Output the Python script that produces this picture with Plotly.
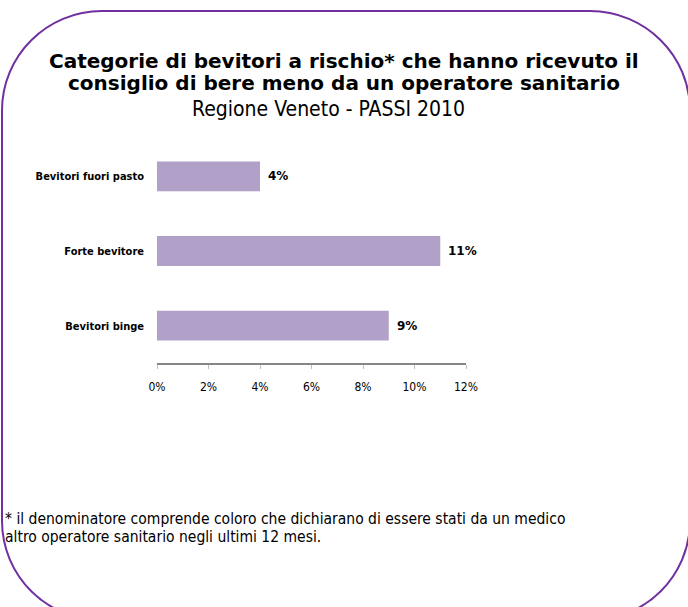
import plotly.graph_objects as go

# Data
categories = ["Bevitori binge", "Forte bevitore", "Bevitori fuori pasto"]
values = [9, 11, 4]
x_ticks = [0, 2, 4, 6, 8, 10, 12]
x_tick_labels = ["0%", "2%", "4%", "6%", "8%", "10%", "12%"]

title_lines = [
    "Categorie di bevitori a rischio* che hanno ricevuto il",
    "consiglio di bere meno da un operatore sanitario",
]
subtitle = "Regione Veneto - PASSI 2010"
footnote_lines = [
    "* il denominatore comprende coloro che dichiarano di essere stati da un medico",
    "altro operatore sanitario negli ultimi 12 mesi.",
]

W, H = 688, 607
L, R, T, B = 157, 222, 138.5, 243.5
PW, PH = W - L - R, H - T - B

BAR = "#B1A0C7"
BORDER = "#7030A0"
AXIS = "#868686"
BOLD = "DejaVu Sans"
COND = "DejaVu Sans Condensed"


def px(x):
    return (x - L) / PW


def py(y):
    return (H - B - y) / PH


fig = go.Figure(
    go.Bar(
        y=categories,
        x=values,
        orientation="h",
        width=0.4,
        marker=dict(color=BAR, line=dict(width=0)),
        hoverinfo="skip",
    )
)

# value labels beside each bar
annotations = []
for c, v in zip(categories, values):
    annotations.append(
        dict(
            x=v, y=c, xref="x", yref="y", text=f"<b>{v}%</b>",
            showarrow=False, xanchor="left", xshift=6,
            font=dict(family=BOLD, size=12, color="#000000"),
        )
    )

# title, subtitle, footnote
for i, line in enumerate(title_lines):
    annotations.append(
        dict(
            x=px(344), y=py(60 + 22.5 * i), xref="paper", yref="paper",
            text=f"<b>{line}</b>", showarrow=False,
            xanchor="center", yanchor="middle",
            font=dict(family=BOLD, size=20, color="#000000"),
        )
    )
annotations.append(
    dict(
        x=px(328), y=py(108.5), xref="paper", yref="paper", text=subtitle,
        showarrow=False, xanchor="center", yanchor="middle",
        font=dict(family=COND, size=21, color="#000000"),
    )
)
for i, line in enumerate(footnote_lines):
    annotations.append(
        dict(
            x=px(3), y=py(520 + 18 * i), xref="paper", yref="paper", text=line,
            showarrow=False, xanchor="left", yanchor="middle",
            font=dict(family=COND, size=15.5, color="#000000"),
        )
    )

# rounded frame around the whole chart
x0, x1, y0, y1, r = 2, 690, 10, 622, 100
k = 0.5523 * r


def pt(x, y):
    return f"{px(x):.5f},{py(y):.5f}"


frame = (
    f"M {pt(x0 + r, y0)} L {pt(x1 - r, y0)} "
    f"C {pt(x1 - r + k, y0)} {pt(x1, y0 + r - k)} {pt(x1, y0 + r)} "
    f"L {pt(x1, y1 - r)} "
    f"C {pt(x1, y1 - r + k)} {pt(x1 - r + k, y1)} {pt(x1 - r, y1)} "
    f"L {pt(x0 + r, y1)} "
    f"C {pt(x0 + r - k, y1)} {pt(x0, y1 - r + k)} {pt(x0, y1 - r)} "
    f"L {pt(x0, y0 + r)} "
    f"C {pt(x0, y0 + r - k)} {pt(x0 + r - k, y0)} {pt(x0 + r, y0)} Z"
)

fig.update_layout(
    width=W, height=H,
    margin=dict(l=L, r=R, t=T, b=B, autoexpand=False),
    paper_bgcolor="#FFFFFF", plot_bgcolor="#FFFFFF",
    showlegend=False,
    annotations=annotations,
    shapes=[dict(type="path", path=frame, xref="paper", yref="paper",
                 line=dict(color=BORDER, width=2), layer="above")],
    xaxis=dict(
        range=[0, 12], tickvals=x_ticks, ticktext=x_tick_labels,
        showgrid=False, zeroline=False,
        showline=True, linecolor=AXIS, linewidth=2,
        ticks="outside", ticklen=4, tickcolor="#BFBFBF", tickwidth=1,
        tickfont=dict(family=COND, size=12, color="#000000"),
        ticklabelstandoff=8, fixedrange=True,
    ),
    yaxis=dict(
        categoryorder="array", categoryarray=categories,
        tickvals=categories, ticktext=[f"<b>{c}</b>" for c in categories],
        range=[-0.5, 2.5],
        showgrid=False, zeroline=False, showline=False, ticks="",
        tickfont=dict(family=COND, size=11, color="#000000"),
        ticklabelstandoff=12, fixedrange=True,
    ),
)

fig.write_html("out.html", config={"displayModeBar": False})
